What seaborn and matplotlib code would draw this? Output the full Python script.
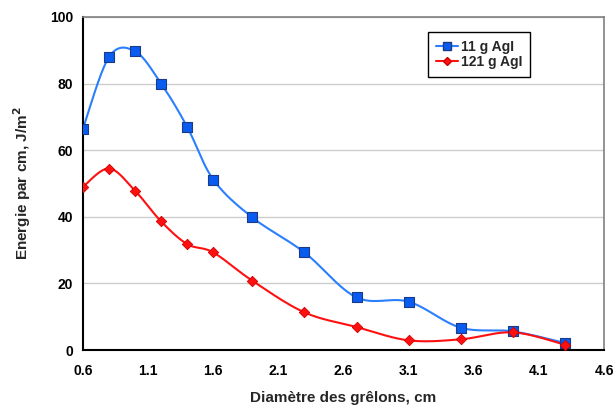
import numpy as np
import pandas as pd
import matplotlib
matplotlib.use("Agg")
import matplotlib.pyplot as plt
from matplotlib.lines import Line2D
import seaborn as sns

# Data
diametre = [0.6, 0.8, 1.0, 1.2, 1.4, 1.6, 1.9, 2.3, 2.7, 3.1, 3.5, 3.9, 4.3]
energie_11 = [66.5, 88, 89.7, 80, 67, 51.2, 39.8, 29.3, 15.8, 14.5, 6.7, 5.6, 2.1]
energie_121 = [49, 54.5, 47.8, 38.6, 31.8, 29.3, 20.8, 11.3, 6.9, 2.9, 3.2, 5.3, 1.6]
series_names = ["11 g AgI", "121 g AgI"]
x_ticks = [0.6, 1.1, 1.6, 2.1, 2.6, 3.1, 3.6, 4.1, 4.6]
y_ticks = [0, 20, 40, 60, 80, 100]


def smooth(x, y, n=30):
    """Excel-like smoothed line (Catmull-Rom Bezier) through the data points."""
    p = np.column_stack([x, y]).astype(float)
    p_ext = np.vstack([p[0], p, p[-1]])
    out = []
    t = np.linspace(0, 1, n)
    for i in range(1, len(p_ext) - 2):
        p0, p1, p2, p3 = p_ext[i - 1], p_ext[i], p_ext[i + 1], p_ext[i + 2]
        c1 = p1 + (p2 - p0) / 6.0
        c2 = p2 - (p3 - p1) / 6.0
        seg = ((1 - t) ** 3)[:, None] * p1 + (3 * (1 - t) ** 2 * t)[:, None] * c1 \
            + (3 * (1 - t) * t ** 2)[:, None] * c2 + (t ** 3)[:, None] * p2
        out.append(seg if i == 1 else seg[1:])
    s = np.vstack(out)
    return s[:, 0], s[:, 1]


sns.set_theme(style="white")
plt.rcParams["font.family"] = ["Liberation Sans", "DejaVu Sans"]
plt.rcParams["font.weight"] = "bold"

fig = plt.figure(figsize=(6.13, 4.05), dpi=100)
ax = fig.add_axes([83 / 613, 1 - 350 / 405, (604 - 83) / 613, (350 - 17) / 405])

blue_line = "#2a7fff"
blue_face = "#0a5cf0"
blue_edge = "#1a3a8a"
red = "#ff1010"

for yvals, name, lc in [(energie_11, series_names[0], blue_line), (energie_121, series_names[1], red)]:
    sx, sy = smooth(diametre, yvals)
    sns.lineplot(x=sx, y=sy, ax=ax, color=lc, linewidth=1.5, sort=False, estimator=None)

df11 = pd.DataFrame({"x": diametre, "y": energie_11})
df121 = pd.DataFrame({"x": diametre, "y": energie_121})
sns.scatterplot(data=df11, x="x", y="y", ax=ax, marker="s", s=45, color=blue_face,
                edgecolor=blue_edge, linewidth=0.8, zorder=5)
sns.scatterplot(data=df121, x="x", y="y", ax=ax, marker="D", s=28, color=red,
                edgecolor="#cc0000", linewidth=0.6, zorder=5)

ax.set_xlim(0.6, 4.6)
ax.set_ylim(0, 100)
ax.set_xticks(x_ticks)
ax.set_xticklabels([f"{v:.1f}" for v in x_ticks])
ax.set_yticks(y_ticks)
ax.set_yticklabels([str(v) for v in y_ticks])
ax.tick_params(axis="both", labelsize=10, direction="out", length=4, width=1.2,
               colors="black", pad=3)
ax.tick_params(axis="x", pad=6)
for lbl in ax.get_xticklabels() + ax.get_yticklabels():
    lbl.set_fontweight("bold")

ax.grid(axis="y", color="#cccccc", linewidth=1)
ax.grid(axis="x", visible=False)
ax.set_axisbelow(True)

for side in ["left", "bottom"]:
    ax.spines[side].set_color("black")
    ax.spines[side].set_linewidth(1.5)
for side in ["top", "right"]:
    ax.spines[side].set_color("#808080")
    ax.spines[side].set_linewidth(1.2)

ax.set_xlabel("Diamètre des grêlons, cm", fontsize=11, fontweight="bold")
ax.set_ylabel("Energie par cm, J/m$^\\mathbf{2}$", fontsize=11, fontweight="bold")
ax.xaxis.set_label_coords(0.5, -(391 - 350) / 333)
ax.yaxis.set_label_coords(-(83 - 33) / 521, 0.5)

handles = [
    Line2D([0], [0], color=blue_line, lw=1.5, marker="s", markersize=6,
           markerfacecolor=blue_face, markeredgecolor=blue_edge),
    Line2D([0], [0], color=red, lw=1.5, marker="D", markersize=4.5,
           markerfacecolor=red, markeredgecolor="#cc0000"),
]
leg = ax.legend(handles, series_names, loc="upper left", bbox_to_anchor=((428 - 83) / 521, 1 - (32 - 17) / 333),
                frameon=True, fancybox=False, framealpha=1, edgecolor="black",
                prop={"weight": "bold", "size": 10}, handlelength=1.6, handletextpad=0.2,
                borderpad=0.55, labelspacing=0.12, borderaxespad=0)
leg.get_frame().set_linewidth(1.0)

fig.savefig("out.png", dpi=100)
